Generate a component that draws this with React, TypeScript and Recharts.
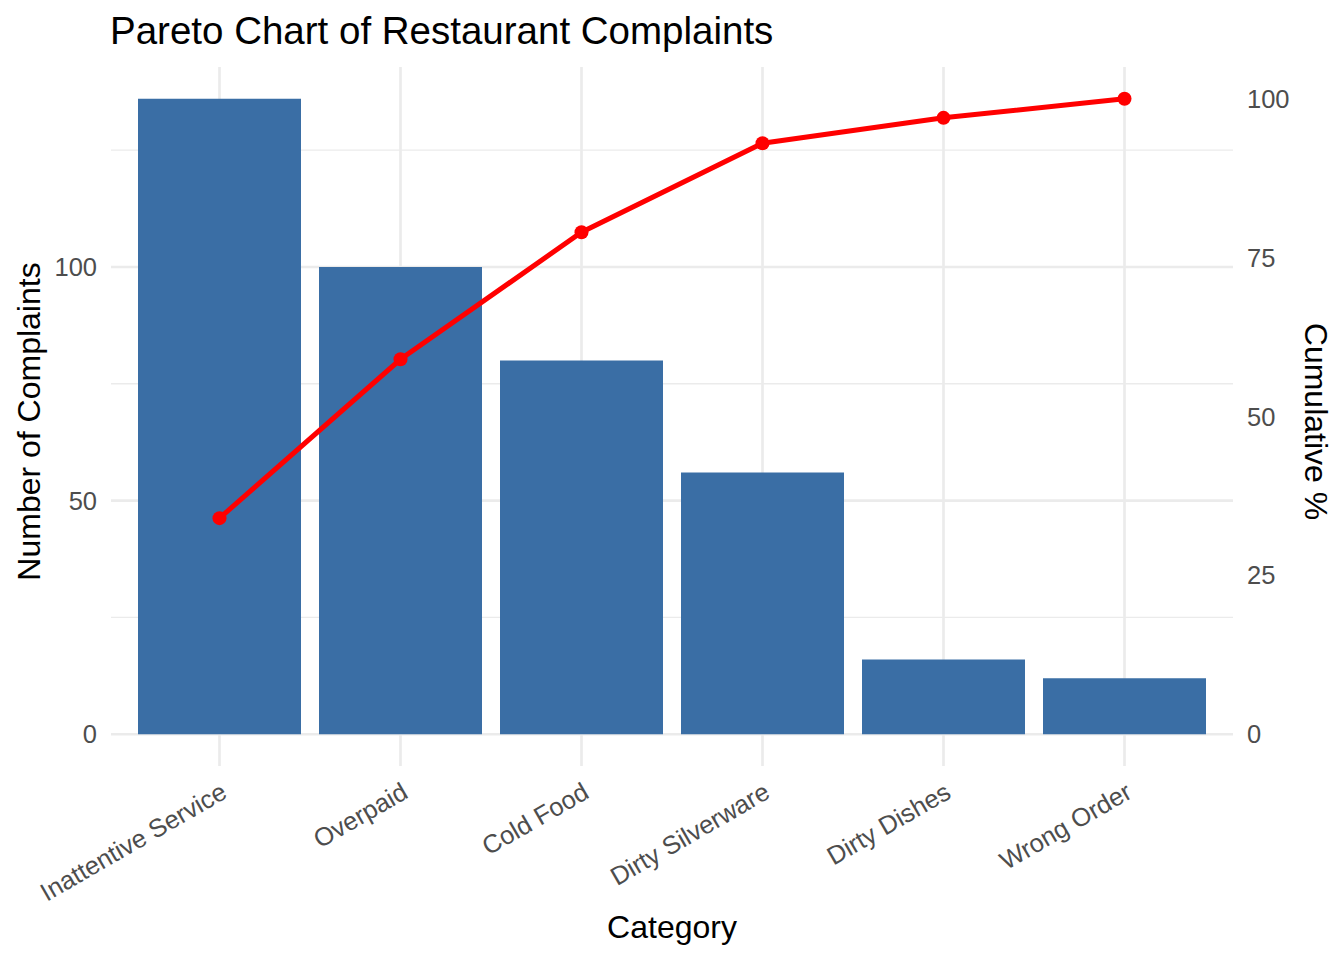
import { ComposedChart, Bar, Line, XAxis, YAxis, CartesianGrid, Label } from 'recharts'

const categories = ['Inattentive Service', 'Overpaid', 'Cold Food', 'Dirty Silverware', 'Dirty Dishes', 'Wrong Order']
const complaints = [136, 100, 80, 56, 16, 12]
const cumulativePct = [34, 59, 79, 93, 97, 100]

const countTicks = [0, 50, 100]
const countMinor = [25, 75, 125]
const pctTicks = [0, 25, 50, 75, 100]

const data = categories.map((c, i) => ({ category: c, count: complaints[i], cum: cumulativePct[i] }))

const font = '"Liberation Sans", Arial, Helvetica, sans-serif'
const grid = '#EBEBEB'
const tickFill = '#4D4D4D'

const CatTick = ({ x, y, payload }: any) => (
  <g transform={`translate(${x + 9},${y + 31})`}>
    <text textAnchor="end" transform="rotate(-30)" fill={tickFill} fontSize={25.5}>{payload.value}</text>
  </g>
)

const LeftTitle = ({ viewBox }: any) => {
  const cx = viewBox.x + 40, cy = viewBox.y + viewBox.height / 2 + 5
  return <text x={cx} y={cy} transform={`rotate(-90, ${cx}, ${cy})`} textAnchor="middle" fontSize={32} fill="#000">Number of Complaints</text>
}

const RightTitle = ({ viewBox }: any) => {
  const cx = viewBox.x + 72, cy = viewBox.y + viewBox.height / 2 + 5
  return <text x={cx} y={cy} transform={`rotate(90, ${cx}, ${cy})`} textAnchor="middle" fontSize={32} fill="#000">Cumulative %</text>
}

export default function App() {
  return (
    <div style={{ position: 'absolute', left: 0, top: 0, width: 1344, height: 960, background: '#fff', fontFamily: font }}>
      <div style={{ position: 'absolute', left: 110, top: 12, fontSize: 38.5, lineHeight: '38.5px', color: '#000', whiteSpace: 'nowrap' }}>
        Pareto Chart of Restaurant Complaints
      </div>
      <ComposedChart width={1344} height={960} data={data} margin={{ top: 67, right: 0, bottom: 0, left: 0 }}>
        <CartesianGrid yAxisId="left" stroke={grid} strokeWidth={1.35} vertical={false} horizontalValues={countMinor} syncWithTicks />
        <CartesianGrid yAxisId="left" stroke={grid} strokeWidth={2.7} horizontalValues={countTicks} syncWithTicks />
        <XAxis dataKey="category" height={194} interval={0} padding={{ left: 18, right: 18 }}
          axisLine={false} tickLine={false} tickSize={0} tickMargin={0} tick={<CatTick />}>
          <Label value="Category" position="insideBottom" offset={22} fill="#000" fontSize={32} />
        </XAxis>
        <YAxis yAxisId="left" width={111} domain={[-6.8, 142.8]} allowDataOverflow ticks={countTicks} interval={0}
          axisLine={false} tickLine={false} tickSize={0} tickMargin={14} tick={{ fill: tickFill, fontSize: 25.5 }}>
          <Label content={<LeftTitle />} />
        </YAxis>
        <YAxis yAxisId="right" orientation="right" width={111} domain={[-5, 105]} allowDataOverflow ticks={pctTicks} interval={0}
          axisLine={false} tickLine={false} tickSize={0} tickMargin={14} tick={{ fill: tickFill, fontSize: 25.5, textAnchor: 'start' }}>
          <Label content={<RightTitle />} />
        </YAxis>
        <Bar yAxisId="left" dataKey="count" fill="#3A6EA5" barSize={163} isAnimationActive={false} />
        <Line yAxisId="right" type="linear" dataKey="cum" stroke="#FF0000" strokeWidth={5}
          dot={{ r: 7, fill: '#FF0000', stroke: 'none', strokeWidth: 0 }} activeDot={false} isAnimationActive={false} />
      </ComposedChart>
    </div>
  )
}
